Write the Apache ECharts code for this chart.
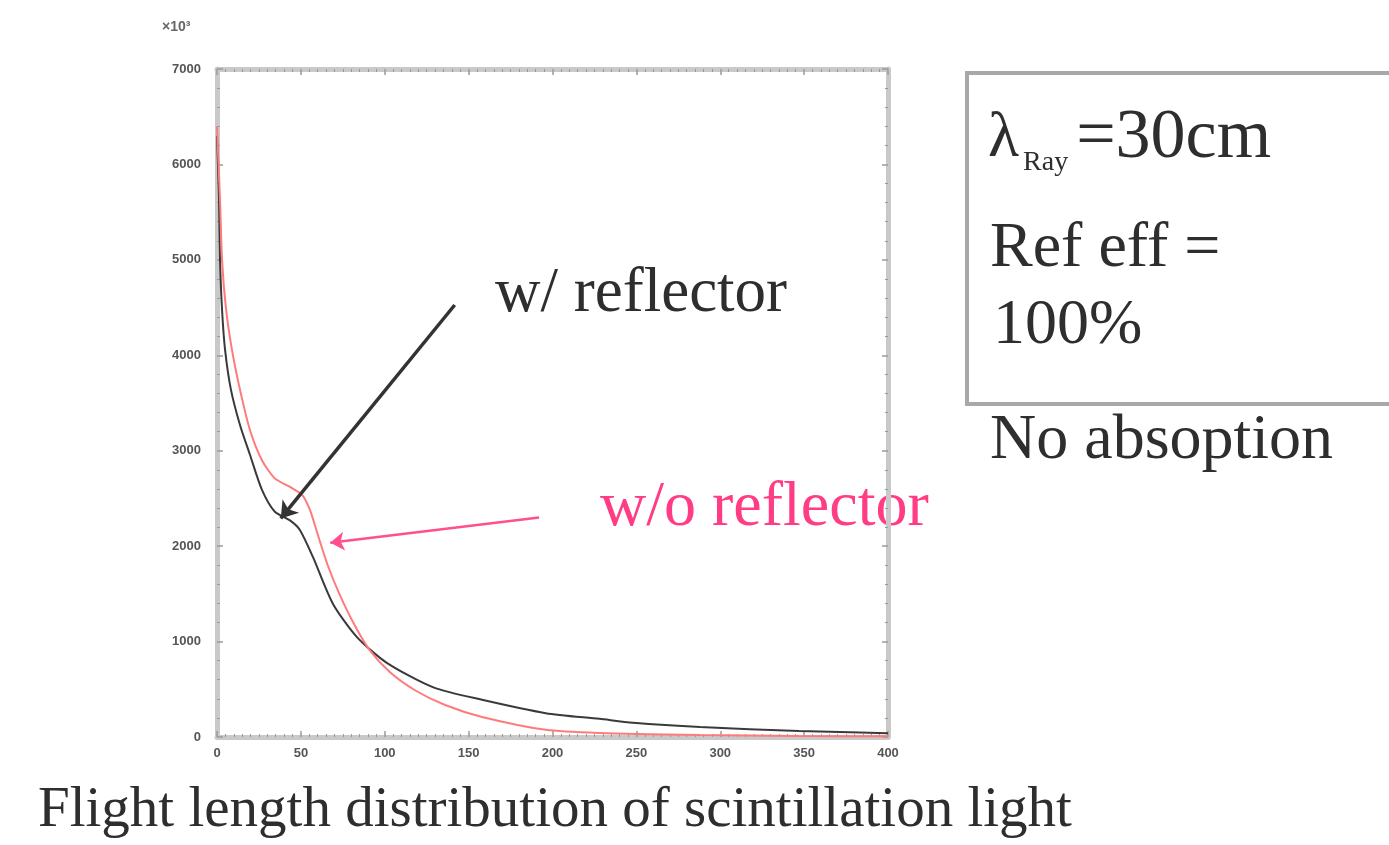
<!DOCTYPE html>
<html>
<head>
<meta charset="utf-8">
<script src="https://cdn.jsdelivr.net/npm/echarts@6/dist/echarts.min.js"></script>
<style>
  html, body { margin: 0; padding: 0; background: #fff; }
  #chart { width: 1389px; height: 845px; }
</style>
</head>
<body>
<div id="chart"></div>
<script>
// Flight length (cm) and photon counts for the two detector configurations
const noReflectorLength = [0, 1.8, 3, 5.4, 8.9, 13.7, 19.6, 26.8, 34.5, 43.5, 50.6, 55.4, 60.1, 66, 73.2, 82.1, 91, 103, 118, 136, 158, 196, 228, 288, 347, 400];
const noReflectorCount  = [6400, 5630, 5000, 4480, 4060, 3640, 3220, 2900, 2710, 2620, 2540, 2380, 2120, 1800, 1490, 1170, 910, 680, 490, 335, 210, 75, 42, 21, 10, 8];

const reflectorLength = [0, 1.2, 1.8, 3, 4.8, 8.3, 13.7, 19.6, 26.8, 34.5, 43.5, 49.4, 57.1, 69, 83.3, 101, 129, 158, 196, 228, 248, 288, 347, 400];
const reflectorCount  = [6300, 5630, 5000, 4480, 4060, 3640, 3270, 2960, 2590, 2360, 2270, 2170, 1890, 1400, 1050, 780, 520, 390, 250, 190, 150, 105, 63, 40];

// Annotation arrows: [from, to] in data coordinates
const reflectorArrow   = [[141.7, 4527], [38, 2290]];
const noReflectorArrow = [[192, 2300], [67.5, 2035]];

const xTicks = { min: 0, max: 400, interval: 50 };
const yTicks = { min: 0, max: 7000, interval: 1000 };

const pair = (xs, ys) => xs.map((x, i) => [x, ys[i]]);

const serif = '"Liberation Serif", "DejaVu Serif", serif';
const ink = '#2e2e2e';
const frameColor = '#c9c9c9';
const tickColor = '#9a9a9a';

const chart = echarts.init(document.getElementById('chart'));

function frameAxis(minorSplit) {
  return {
    axisLine: { show: true, onZero: false, lineStyle: { color: frameColor, width: 5 } },
    axisTick: { show: true, inside: true, length: 6, lineStyle: { color: tickColor, width: 1.5 } },
    minorTick: { show: true, splitNumber: minorSplit, length: 3, lineStyle: { color: tickColor } },
    splitLine: { show: false }
  };
}

const tickLabel = {
  color: '#555', fontSize: 13, fontWeight: 'bold', fontFamily: 'Liberation Sans',
  formatter: v => String(v)
};

chart.setOption({
  backgroundColor: '#ffffff',
  animation: false,
  grid: { left: 217, top: 69, width: 671, height: 668 },
  xAxis: [
    Object.assign({
      type: 'value', position: 'bottom',
      min: xTicks.min, max: xTicks.max, interval: xTicks.interval,
      axisLabel: Object.assign({ margin: 10 }, tickLabel)
    }, frameAxis(10)),
    Object.assign({
      type: 'value', position: 'top',
      min: xTicks.min, max: xTicks.max, interval: xTicks.interval,
      axisLabel: { show: false }
    }, frameAxis(10))
  ],
  yAxis: [
    Object.assign({
      type: 'value', position: 'left',
      min: yTicks.min, max: yTicks.max, interval: yTicks.interval,
      axisLabel: Object.assign({ margin: 16 }, tickLabel)
    }, frameAxis(5)),
    Object.assign({
      type: 'value', position: 'right',
      min: yTicks.min, max: yTicks.max, interval: yTicks.interval,
      axisLabel: { show: false }
    }, frameAxis(5))
  ],
  series: [
    {
      name: 'w/o reflector',
      type: 'line',
      data: pair(noReflectorLength, noReflectorCount),
      showSymbol: false,
      smooth: 0.25,
      lineStyle: { color: '#ff7b7b', width: 2 },
      z: 3,
      markLine: {
        silent: true,
        symbol: ['none', 'arrow'],
        symbolSize: 14,
        label: { show: false },
        lineStyle: { color: '#ff4f8f', width: 2.5, type: 'solid' },
        data: [[{ coord: noReflectorArrow[0] }, { coord: noReflectorArrow[1] }]]
      }
    },
    {
      name: 'w/ reflector',
      type: 'line',
      data: pair(reflectorLength, reflectorCount),
      showSymbol: false,
      smooth: 0.25,
      lineStyle: { color: '#3a3a3a', width: 2 },
      z: 2,
      markLine: {
        silent: true,
        symbol: ['none', 'arrow'],
        symbolSize: 16,
        label: { show: false },
        lineStyle: { color: '#333333', width: 3.5, type: 'solid' },
        data: [[{ coord: reflectorArrow[0] }, { coord: reflectorArrow[1] }]]
      }
    }
  ],
  graphic: [
    { type: 'text', left: 162, top: 20, style: { text: '×10³', font: 'bold 14px "Liberation Sans"', fill: '#666' } },
    { type: 'text', left: 495, top: 263, style: { text: 'w/ reflector', font: '63px ' + serif, fill: ink } },
    { type: 'text', left: 600, top: 476, style: { text: 'w/o reflector', font: '64px ' + serif, fill: '#ff3c84' } },
    { type: 'rect', shape: { x: 967, y: 73, width: 440, height: 331 }, style: { fill: 'none', stroke: '#a8a8a8', lineWidth: 4 } },
    { type: 'text', left: 988, top: 104, style: {
        rich: {
          a: { font: '64px ' + serif, fill: ink },
          s: { font: '28px ' + serif, fill: ink, padding: [48, 8, 0, 4] },
          b: { font: '70px ' + serif, fill: ink }
        },
        text: '{a|λ}{s|Ray}{b|=30cm}'
      } },
    { type: 'text', left: 990, top: 217, style: { text: 'Ref eff =', font: '64px ' + serif, fill: ink } },
    { type: 'text', left: 993, top: 294, style: { text: '100%', font: '64px ' + serif, fill: ink } },
    { type: 'text', left: 990, top: 409, style: { text: 'No absoption', font: '64px ' + serif, fill: ink } },
    { type: 'text', left: 38, top: 783, style: { text: 'Flight length distribution of scintillation light', font: '57px ' + serif, fill: ink } }
  ]
});
</script>
</body>
</html>
